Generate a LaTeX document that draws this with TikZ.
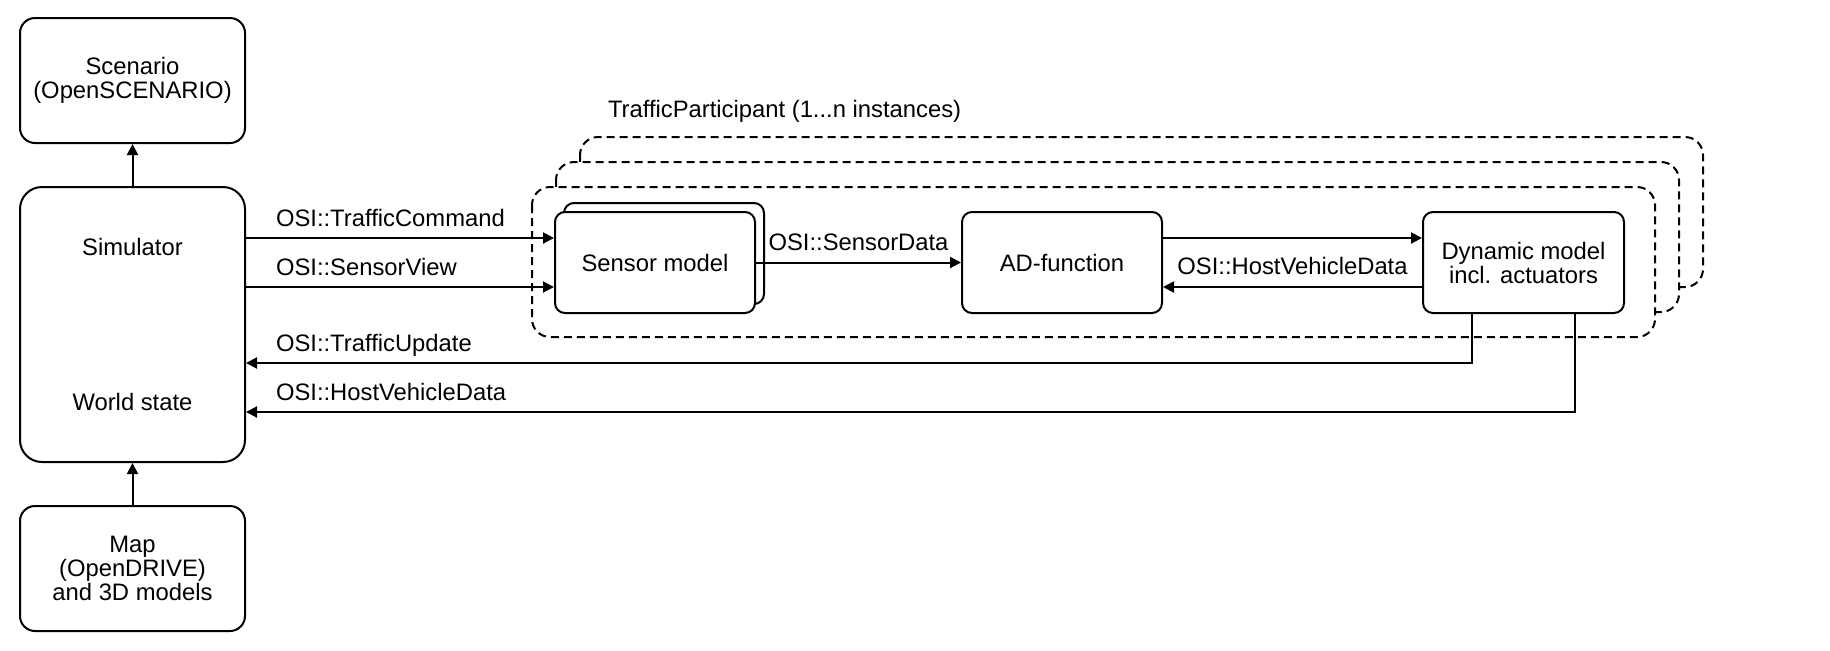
\documentclass[tikz,border=0pt]{standalone}
\usepackage{fontspec}
\setmainfont{Liberation Sans}
\usepackage{tikz}
\usetikzlibrary{positioning}
\usetikzlibrary{arrows.meta}

\begin{document}
\begin{tikzpicture}[x=1pt, y=-1pt,
          font = \fontsize{11.9}{12}\selectfont,
    line width = 1pt,
   block/.style = {draw, fill=white, rounded corners=5pt, align=center,
                   minimum width=100pt, minimum height=50.5pt, inner sep=0pt},
    side/.style = {block, rounded corners=7.5pt, minimum width=112.5pt,
                   minimum height=62.5pt},
   frame/.style = {draw, fill=white, dash pattern=on 4pt off 2.5pt,
                   rounded corners=9pt},
    flow/.style = {-{Triangle[length=5.5pt, width=5.5pt]}},
     msg/.style = {inner sep=0pt, anchor=base west}]
  \useasboundingbox (0,0) rectangle (915,325);

  % simulator column
  \node[side, minimum height=137.5pt, rounded corners=11pt] (sim) at (66.25,162.25)
       {Simulator\\[65.5pt]World state};
  \node[side] (scen) [above=21pt of sim] {Scenario\\(OpenSCENARIO)};
  \node[side] (map)  [below=21pt of sim] {Map\\(OpenDRIVE)\\and 3D models};

  % TrafficParticipant instances
  \draw[frame] (290,68.5) rectangle (851.5,143.5);
  \draw[frame] (278,81) rectangle (839.5,156);
  \draw[frame] (266,93.5) rectangle (827.5,168.5);
  \node[msg] (tp) at (303.5,58.5) {TrafficParticipant (1...n instances)};

  \node[block] (sens0) at (332,126.75) {};
  \node[block] (sens) at (327.5,131.25) {Sensor model};
  \node[block] (ad)  [right=102.5pt of sens] {AD-function};
  \node[block, minimum width=100.5pt] (dyn) [right=129.5pt of ad]
       {Dynamic model\\incl. actuators};

  \draw[flow] ([yshift=12.25pt]sens.west -| sim.east) -- ([yshift=12.25pt]sens.west)
       node[msg, pos=0, xshift=14.5pt, yshift=6pt] (lcmd) {OSI::TrafficCommand};
  \draw[flow] ([yshift=-12.25pt]sens.west -| sim.east) -- ([yshift=-12.25pt]sens.west)
       node[msg, pos=0, xshift=14.5pt, yshift=6pt] (lview) {OSI::SensorView};
  \draw[flow] (sens.east) -- node[above=5.5pt, inner sep=0pt] (ldata) {OSI::SensorData} (ad.west);
  \draw[flow] ([yshift=12.25pt]ad.east) -- ([yshift=12.25pt]dyn.west);
  \draw[flow] ([yshift=-12.25pt]dyn.west) --
       node[above=5.5pt, inner sep=0pt] (lhost) {OSI::HostVehicleData} ([yshift=-12.25pt]ad.east);

  \draw[flow] ([xshift=25pt]dyn.south west) |- ([yshift=-19.25pt]sim.east)
       node[msg, pos=1, xshift=14.5pt, yshift=6pt] (lupd) {OSI::TrafficUpdate};
  \draw[flow] ([xshift=-25pt]dyn.south east) |- ([yshift=-43.75pt]sim.east)
       node[msg, pos=1, xshift=14.5pt, yshift=6pt] (lhvd) {OSI::HostVehicleData};

  \draw[flow] (sim) -- (scen);
  \draw[flow] (map) -- (sim);
\end{tikzpicture}
\end{document}
